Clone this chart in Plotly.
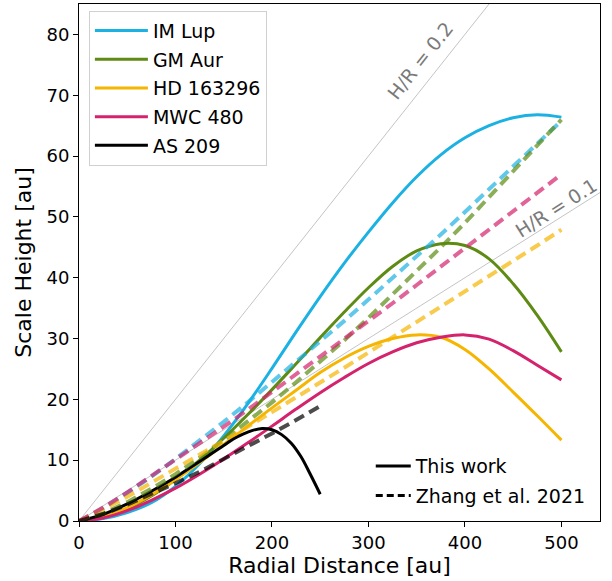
import plotly.graph_objects as go

# ---------------- data ----------------
r_grid = [0, 25, 50, 75, 100, 125, 150, 175, 200, 225, 250, 275, 300, 325, 350,
          375, 400, 425, 450, 475, 500]

# "This work" scale heights [au]
im_lup_h = [0, 0.4, 1.4, 3.0, 5.7, 9.4, 14.0, 19.3, 25.1, 31.1, 36.9, 42.4, 47.5,
            52.3, 56.6, 60.2, 63.0, 65.0, 66.3, 66.8, 66.4]
gm_aur_h = [0, 0.6, 2.0, 4.1, 6.8, 10.0, 13.6, 17.5, 21.6, 25.85, 30.15, 34.35, 38.35,
            41.85, 44.4, 45.6, 45.3, 43.1, 39.0, 33.8, 27.8]
hd163296_h = [0, 0.7, 2.2, 4.3, 6.8, 9.6, 12.6, 15.6, 18.6, 21.5, 24.4, 26.8, 28.7,
              30.0, 30.6, 30.2, 28.2, 25.0, 21.2, 17.3, 13.3]
mwc480_h = [0, 0.5, 1.7, 3.4, 5.4, 7.7, 10.2, 12.85, 15.6, 18.4, 21.1, 23.6, 25.9,
            27.8, 29.3, 30.2, 30.6, 29.9, 28.0, 25.6, 23.2]
as209_r = [0, 25, 50, 75, 100, 125, 150, 160, 170, 180, 190, 200, 210, 220, 230, 240, 250]
as209_h = [0, 1.1, 2.8, 4.9, 7.2, 9.8, 12.4, 13.5, 14.3, 14.9, 15.2, 15.0, 14.2, 12.8,
           10.6, 7.6, 4.4]

# Zhang et al. 2021 scale heights [au]
im_lup_z = [0, 2.05, 4.6, 7.3, 10.2, 13.2, 16.3, 19.5, 22.8, 26.1, 29.5, 32.9, 36.4,
            39.9, 43.5, 47.1, 50.8, 54.5, 58.2, 62.0, 65.8]
gm_aur_z = [0, 1.2, 3.1, 5.3, 7.7, 10.4, 13.3, 16.3, 19.5, 22.8, 26.2, 29.7, 33.4,
            37.2, 41.0, 45.0, 49.0, 53.2, 57.4, 61.7, 66.0]
hd163296_z = [0, 1.9, 4.0, 6.3, 8.5, 10.8, 13.2, 15.5, 17.9, 20.3, 22.8, 25.2, 27.7,
              30.2, 32.7, 35.2, 37.7, 40.2, 42.8, 45.3, 47.9]
mwc480_z = [0, 2.2, 4.7, 7.4, 10.0, 12.8, 15.5, 18.3, 21.2, 24.0, 26.9, 29.9, 32.8,
            35.8, 38.8, 41.8, 44.8, 47.8, 50.9, 53.9, 57.0]
as209_zr = [0, 25, 50, 75, 100, 125, 150, 175, 200, 225, 250]
as209_z = [0, 1.15, 2.7, 4.4, 6.2, 8.1, 10.2, 12.2, 14.4, 16.6, 18.9]

# H/R reference lines
hr_r = [0, 540]
hr_values = [0.2, 0.1]
hr_labels = ["H/R = 0.2", "H/R = 0.1"]

disk_names = ["IM Lup", "GM Aur", "HD 163296", "MWC 480", "AS 209"]
disk_colors = ["#1cb1e3", "#5d8b13", "#f6b500", "#d4226d", "#000000"]
dash_colors = ["rgba(28,177,227,0.7)", "rgba(93,139,19,0.7)", "rgba(246,181,0,0.7)",
               "rgba(212,34,109,0.7)", "rgba(0,0,0,0.7)"]

this_work = [(r_grid, im_lup_h), (r_grid, gm_aur_h), (r_grid, hd163296_h),
             (r_grid, mwc480_h), (as209_r, as209_h)]
zhang = [(r_grid, im_lup_z), (r_grid, gm_aur_z), (r_grid, hd163296_z),
         (r_grid, mwc480_z), (as209_zr, as209_z)]

FONT = "DejaVu Sans"

fig = go.Figure()

# H/R lines
for hr in hr_values:
    fig.add_trace(go.Scatter(x=hr_r, y=[hr * r for r in hr_r], mode="lines",
                             line=dict(color="#c4c4c4", width=1),
                             showlegend=False, hoverinfo="skip"))

# solid curves (this work)
for name, col, (rx, hy) in zip(disk_names, disk_colors, this_work):
    fig.add_trace(go.Scatter(x=rx, y=hy, mode="lines", name=name,
                             line=dict(color=col, width=3, shape="spline", smoothing=1.0),
                             legend="legend", legendgroup=name))

# dashed curves (Zhang et al. 2021)
for name, col, (rx, hy) in zip(disk_names, dash_colors, zhang):
    fig.add_trace(go.Scatter(x=rx, y=hy, mode="lines", showlegend=False,
                             line=dict(color=col, width=4, dash="11px,6px")))

# style legend entries
fig.add_trace(go.Scatter(x=[None], y=[None], mode="lines", name="This work",
                         line=dict(color="black", width=3), legend="legend2",
                         legendgroup="tw"))
fig.add_trace(go.Scatter(x=[None], y=[None], mode="lines", name="Zhang et al. 2021",
                         line=dict(color="black", width=3, dash="7px,4px"),
                         legend="legend2", legendgroup="zh"))

# H/R labels
fig.add_annotation(x=353, y=75.7, text=hr_labels[0], showarrow=False, textangle=-51.6,
                   font=dict(family=FONT, size=19, color="#7a7a7a"))
fig.add_annotation(x=494, y=51.5, text=hr_labels[1], showarrow=False, textangle=-32.3,
                   font=dict(family=FONT, size=19, color="#7a7a7a"))

axis_common = dict(showgrid=False, zeroline=False, showline=True, mirror=True,
                   linecolor="black", linewidth=1, ticks="outside", ticklen=5,
                   tickwidth=1, tickcolor="black",
                   tickfont=dict(family=FONT, size=18, color="black"))

fig.update_layout(
    width=612, height=581,
    margin=dict(l=79, r=12, t=4, b=60, pad=0),
    paper_bgcolor="white", plot_bgcolor="white",
    font=dict(family=FONT, color="black"),
    xaxis=dict(range=[0, 540], tickvals=[0, 100, 200, 300, 400, 500],
               title=dict(text="Radial Distance [au]", font=dict(family=FONT, size=22),
                          standoff=6),
               **axis_common),
    yaxis=dict(range=[0, 85], tickvals=[0, 10, 20, 30, 40, 50, 60, 70, 80],
               title=dict(text="Scale Height [au]", font=dict(family=FONT, size=22),
                          standoff=8),
               **axis_common),
    legend=dict(x=0.019, y=0.987, xanchor="left", yanchor="top",
                bgcolor="rgba(255,255,255,0.8)", bordercolor="#d0d0d0", borderwidth=1,
                font=dict(family=FONT, size=19, color="black"),
                tracegroupgap=1, itemwidth=53),
    legend2=dict(x=0.56, y=0.143, xanchor="left", yanchor="top",
                 bgcolor="rgba(0,0,0,0)", borderwidth=0,
                 font=dict(family=FONT, size=19, color="black"),
                 tracegroupgap=2, itemwidth=35),
)

fig.write_html("out.html")
